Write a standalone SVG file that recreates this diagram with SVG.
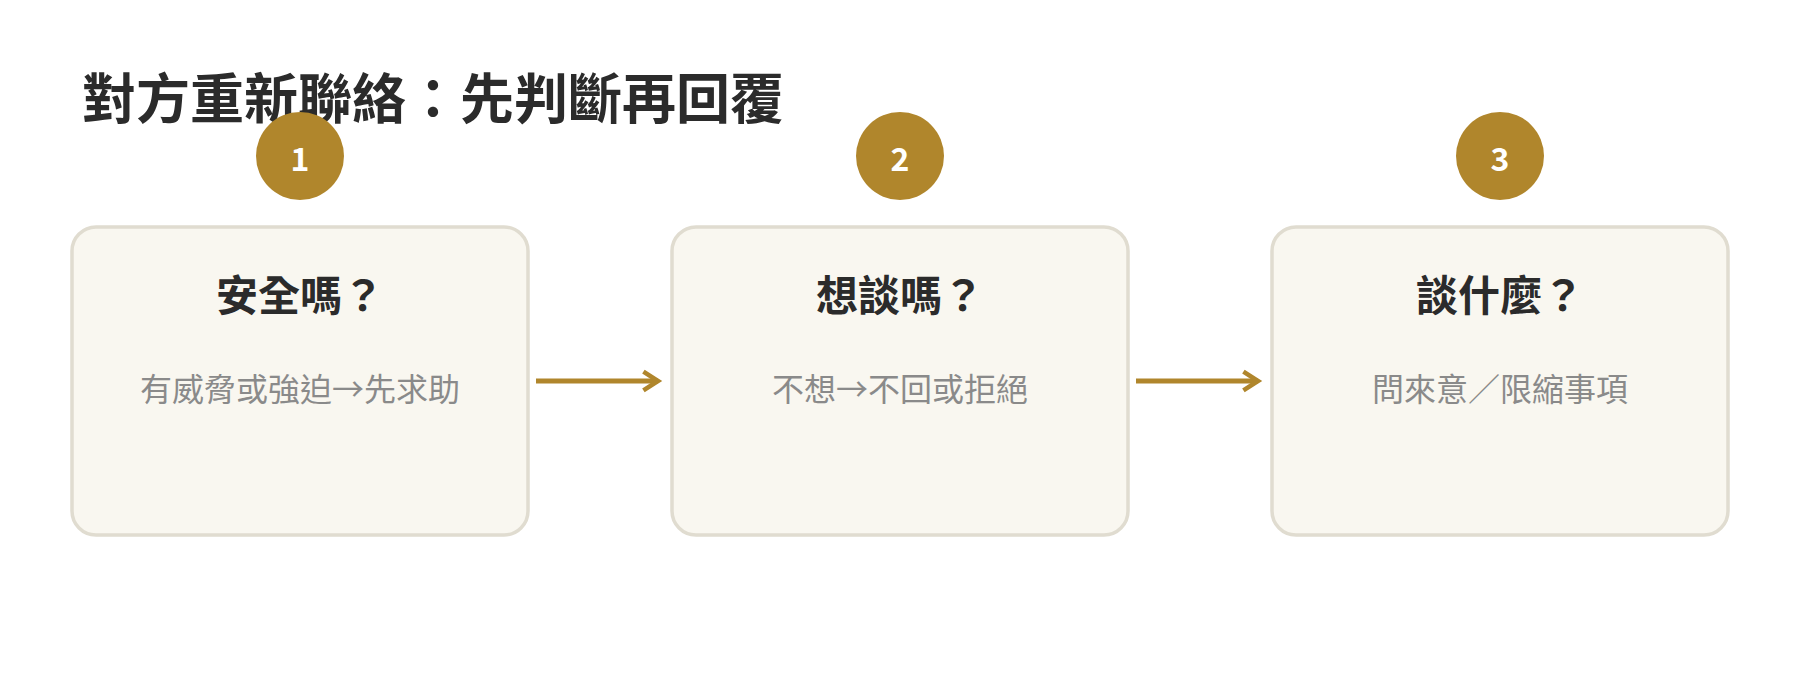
<svg xmlns="http://www.w3.org/2000/svg" width="1800" height="700" viewBox="0 0 1800 700">
<style>
text{font-family:"Noto Sans CJK TC","Noto Sans CJK SC","Noto Sans",sans-serif}
.title{font-size:54px;font-weight:700;fill:#2b2b2b}
.box{fill:#f9f7f0;stroke:#e0dcd0;stroke-width:3.5}
.badge{fill:#b0862c}
.num{font-size:32px;font-weight:700;fill:#ffffff;text-anchor:middle}
.head{font-size:42px;font-weight:700;fill:#2b2b2b;text-anchor:middle}
.sub{font-size:32px;fill:#8a8a8a;text-anchor:middle}
.conn{stroke:#b0862c;stroke-width:5;fill:none}
</style>
<defs>
<marker id="arr" viewBox="0 0 12 12" refX="9" refY="6" markerWidth="5" markerHeight="5" markerUnits="strokeWidth" orient="auto">
<polyline points="2,1.5 9,6 2,10.5" fill="none" stroke="#b0862c" stroke-width="2.2"/>
</marker>
</defs>
<rect width="1800" height="700" fill="#ffffff"/>
<text class="title" x="82" y="119">對方重新聯絡：先判斷再回覆</text>
<g id="step1">
<rect class="box" x="72" y="227" width="456" height="308" rx="24"/>
<circle class="badge" cx="300" cy="156" r="44"/>
<text class="num" x="300" y="171">1</text>
<text class="head" x="300" y="311">安全嗎？</text>
<text class="sub" x="300" y="401">有威脅或強迫→先求助</text>
</g>
<g id="step2">
<rect class="box" x="672" y="227" width="456" height="308" rx="24"/>
<circle class="badge" cx="900" cy="156" r="44"/>
<text class="num" x="900" y="171">2</text>
<text class="head" x="900" y="311">想談嗎？</text>
<text class="sub" x="900" y="401">不想→不回或拒絕</text>
</g>
<g id="step3">
<rect class="box" x="1272" y="227" width="456" height="308" rx="24"/>
<circle class="badge" cx="1500" cy="156" r="44"/>
<text class="num" x="1500" y="171">3</text>
<text class="head" x="1500" y="311">談什麼？</text>
<text class="sub" x="1500" y="401">問來意／限縮事項</text>
</g>
<g id="connectors">
<line class="conn" x1="536" y1="381" x2="658" y2="381" marker-end="url(#arr)"/>
<line class="conn" x1="1136" y1="381" x2="1258" y2="381" marker-end="url(#arr)"/>
</g>
</svg>
